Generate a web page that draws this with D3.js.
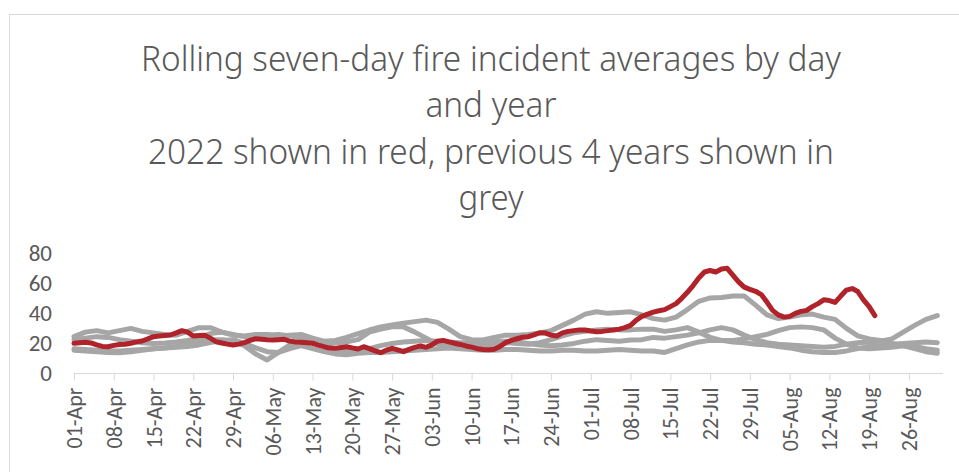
<!DOCTYPE html>
<html>
<head>
<meta charset="utf-8">
<script src="https://cdn.jsdelivr.net/npm/d3@7"></script>
<style>
  html, body { margin: 0; padding: 0; background: #fff; }
  svg { display: block; }
</style>
</head>
<body>
<div id="chart"></div>
<script>
// Rolling seven-day fire incident averages, Apr-Aug

const titleLines = [
  "Rolling seven-day fire incident averages by day",
  "and year",
  "2022 shown in red, previous 4 years shown in",
  "grey"
];

const startDate = "2022-04-01";
const endDate = "2022-09-01";

// week labels on the x axis
const tickLabels = ["01-Apr", "08-Apr", "15-Apr", "22-Apr", "29-Apr", "06-May", "13-May", "20-May",
  "27-May", "03-Jun", "10-Jun", "17-Jun", "24-Jun", "01-Jul", "08-Jul", "15-Jul", "22-Jul",
  "29-Jul", "05-Aug", "12-Aug", "19-Aug", "26-Aug"];
const yTicks = [0, 20, 40, 60, 80];

// 2022, one value per day from 01-Apr
const values2022 = [19.6, 20, 20.2, 19.8, 18.5, 17.5, 17.3, 18.2, 18.8, 18.9,
  19.6, 20.5, 21.1, 22.5, 24, 24.4, 24.8, 25.1, 26.5, 28,
  27, 24.4, 24.8, 25, 23, 20.6, 19.8, 19, 18.4, 19,
  20, 21.5, 22.6, 22.3, 22, 21.8, 22, 22.2, 21, 20.4,
  20.2, 19.9, 19.6, 18.4, 17.3, 16.4, 16.2, 16.8, 17.3, 16.5,
  15.8, 17.3, 16, 14.5, 13.3, 15, 16.2, 15.2, 14, 15.5,
  16.8, 17.8, 16.9, 18.5, 21, 21.5, 20.5, 19.6, 18.8, 17.8,
  17, 16, 15.5, 15.3, 15.6, 17.5, 20, 21.5, 22.6, 23.6,
  24, 25.2, 26.6, 26.4, 25, 24.4, 26.5, 27.5, 28, 28.5,
  28.4, 27.8, 27.3, 27.5, 28, 28.4, 29, 30, 31.5, 35,
  37.5, 39, 40.3, 41.2, 42, 44, 46, 49.5, 53.5, 58,
  63, 67, 68, 67, 69, 69.5, 65, 60.5, 57, 55.5,
  54.2, 52, 47, 41.5, 38.5, 37, 37.5, 39.5, 40.8, 41.5,
  44, 46, 48.5, 48, 46.8, 51, 55, 56, 54, 48.5,
  44, 38];

// previous years, read every second day from 01-Apr
const greyStep = 2;
const valuesA = [24, 27, 28, 26.5, 28, 29.5, 27.5, 26.5, 25.5, 25, 27.5, 30, 30, 27, 25,
  24.5, 25.5, 25.5, 24.5, 25, 25.5, 23, 21, 21.5, 23.5, 26,
  28.4, 30.5, 31.7, 33, 34, 35, 33.5, 29, 24, 22, 21.8, 23.5, 25,
  25, 25.5, 26.5, 28, 31.5, 35, 39, 40.6, 39.5, 40, 40.5, 38.5,
  36, 35, 37, 42, 47.5, 49.8, 50, 51, 51, 45, 38.5, 36, 37,
  38.5, 39, 37, 35.5, 29.5, 24.5, 22.5, 21.5, 19.5, 18, 16, 14, 13];
const valuesB = [22, 23, 24, 23.5, 22, 21, 20, 19.5, 19.8, 20.5, 21.5, 23, 26, 27, 25.5,
  24, 24.5, 25, 25.5, 24.5, 23, 21.5, 20.5, 20, 20.5, 22,
  27, 29, 30.5, 30.5, 27, 23, 19, 17.5, 17, 17.5, 18, 19, 20,
  19.5, 19, 20, 22, 24.5, 26.5, 27.5, 28.5, 29, 28.5, 28.5, 29,
  29, 27.5, 28.5, 30, 27, 23.5, 21.5, 21.5, 22.5, 24, 25.5, 28, 30,
  30.5, 30, 28.5, 23, 19, 16.5, 16, 16.5, 17, 18, 17.5, 16, 15];
const valuesC = [16, 15.5, 15, 14.5, 14.5, 15, 15.5, 16, 16.5, 17.5, 19.5, 21, 22, 22, 21,
  18, 12.5, 8.5, 13.5, 18.5, 21.5, 21, 18.5, 15.5, 14, 15,
  16, 18, 19.5, 20.5, 21, 21.5, 21, 20.5, 20, 20, 20.5, 21, 21,
  20.5, 19.5, 18.5, 18, 18.5, 19.5, 21, 22, 21.5, 21, 21.8, 22,
  23.5, 23, 24, 25, 26.5, 28.5, 30, 28.5, 25, 22, 20, 19, 18.5,
  18, 17.5, 17, 17.5, 19, 20, 20.5, 21, 22.5, 27, 31.5, 35.5, 38];
const valuesD = [15, 14.5, 14, 13.5, 13.3, 14, 15, 16, 16.5, 17, 17.5, 18.5, 20, 21.5, 22,
  19.5, 16.5, 14, 13.5, 16, 18, 16, 14, 12.5, 12, 13,
  13.5, 13.5, 14, 14.5, 15, 15.5, 16, 16.5, 16, 15.5, 15, 15, 15.5,
  15.5, 15, 14.5, 14.5, 15, 15, 14.5, 14.5, 15, 15.5, 15, 14.5,
  14.5, 13.5, 16, 18.5, 20.5, 21.5, 21.5, 20.5, 20, 19, 18.5, 17.5, 16.5,
  15, 14, 13.5, 13.5, 14.5, 16, 17.5, 18, 19, 19.5, 20, 20.5, 20];

const width = 959;
const height = 472;

const parseDay = d3.utcParse("%Y-%m-%d");
const parseLabel = d3.utcParse("%d-%b-%Y");
const start = parseDay(startDate);

const svg = d3.select("#chart")
  .append("svg")
  .attr("width", width)
  .attr("height", height);

// chart area frame, cut off at the right and bottom
svg.append("rect")
  .attr("x", 9.5)
  .attr("y", 14.5)
  .attr("width", 1000)
  .attr("height", 500)
  .attr("fill", "#fff")
  .attr("stroke", "#d9d9d9")
  .attr("stroke-width", 1);

// Title (thin humanist face squeezed to the measured line widths)
const title = svg.append("g")
  .attr("font-family", "'Noto Sans', 'Open Sans', Lato, sans-serif")
  .attr("font-weight", 300)
  .attr("font-size", 34)
  .attr("fill", "#595959")
  .attr("text-anchor", "middle");

const titleBase = [71, 117, 164, 210];
const titleWidth = [700, 131, 686, 65];
titleLines.forEach((t, i) => {
  title.append("text")
    .attr("x", 491)
    .attr("y", titleBase[i])
    .attr("textLength", titleWidth[i])
    .attr("lengthAdjust", "spacingAndGlyphs")
    .text(t);
});

// Scales
const x = d3.scaleUtc()
  .domain([start, parseDay(endDate)])
  .range([74, 943]);

const y = d3.scaleLinear()
  .domain([0, 80])
  .range([372.7, 252.5]);

// Y axis labels (no axis line, no gridlines)
svg.append("g")
  .selectAll("text")
  .data(yTicks)
  .enter()
  .append("text")
  .attr("x", 52)
  .attr("y", d => y(d))
  .attr("dy", "0.36em")
  .attr("text-anchor", "end")
  .attr("font-family", "Carlito, Calibri, Lato, sans-serif")
  .attr("font-size", 23)
  .attr("fill", "#595959")
  .text(d => d);

// X axis
const tickDates = tickLabels.map(l => parseLabel(l + "-2022"));
const xAxis = svg.append("g")
  .attr("transform", `translate(0, ${Math.round(y(0)) + 0.5})`)
  .call(d3.axisBottom(x)
    .tickValues(tickDates)
    .tickSize(7)
    .tickFormat(d3.utcFormat("%d-%b")));

xAxis.select(".domain")
  .attr("stroke", "#d9d9d9")
  .attr("d", `M${x.range()[0]},0H${x.range()[1]}`);
xAxis.selectAll(".tick line").attr("stroke", "#d9d9d9");
xAxis.selectAll(".tick text")
  .attr("font-family", "Carlito, Calibri, Lato, sans-serif")
  .attr("font-size", 22)
  .attr("fill", "#595959")
  .attr("text-anchor", "end")
  .attr("transform", "rotate(-90)")
  .attr("x", -14)
  .attr("y", 0)
  .attr("dy", "0.34em");

// Lines
const line = d3.line()
  .x(d => x(d.date))
  .y(d => y(d.value));

function toPoints(values, step) {
  return values.map((v, i) => ({ date: d3.utcDay.offset(start, i * step), value: v }));
}

const greySeries = [valuesA, valuesB, valuesC, valuesD];
svg.append("g")
  .selectAll("path")
  .data(greySeries)
  .enter()
  .append("path")
  .attr("d", d => line(toPoints(d, greyStep)))
  .attr("fill", "none")
  .attr("stroke", "#a6a6a6")
  .attr("stroke-width", 5)
  .attr("stroke-linejoin", "round")
  .attr("stroke-linecap", "round");

svg.append("path")
  .attr("d", line(toPoints(values2022, 1)))
  .attr("fill", "none")
  .attr("stroke", "#b0232b")
  .attr("stroke-width", 5)
  .attr("stroke-linejoin", "round")
  .attr("stroke-linecap", "round");
</script>
</body>
</html>
